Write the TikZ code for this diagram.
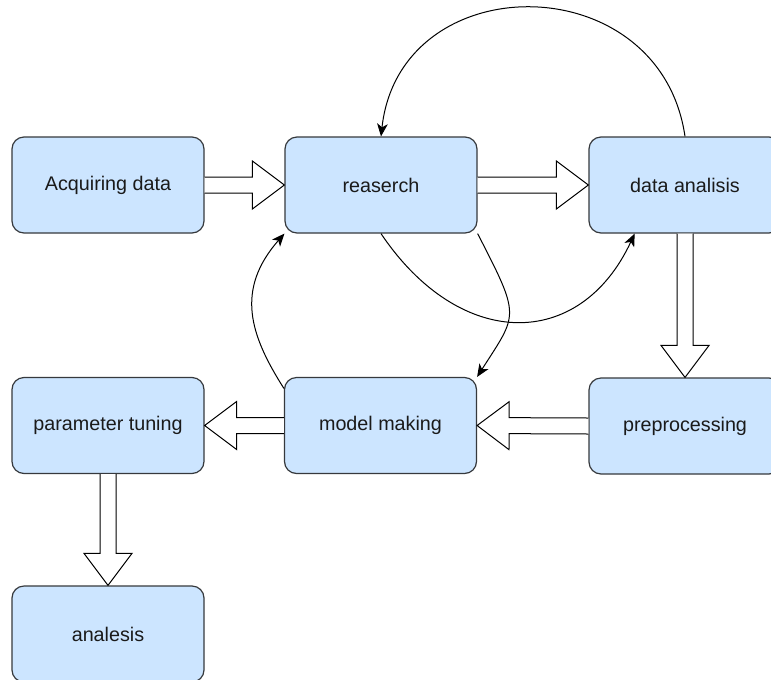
\documentclass[tikz,border=0pt]{standalone}
\usepackage{fontspec}
\setmainfont{Liberation Sans}
\usetikzlibrary{arrows.meta,calc}

\definecolor{boxfill}{HTML}{CCE5FF}
\definecolor{boxline}{HTML}{36393D}
\definecolor{txt}{HTML}{1A1A1A}

\tikzset{
  stage/.style={draw=boxline, fill=boxfill, line width=0.9pt, rounded corners=9pt,
    minimum width=144pt, minimum height=72pt, inner sep=0pt,
    text=txt, font=\fontsize{14.8pt}{17pt}\selectfont},
  blockarrow/.style={draw=black, fill=white, line width=0.75pt, line join=miter},
  link/.style={draw=black, line width=0.75pt,
    -{Stealth[length=9.5pt, width=8pt, inset=2.6pt]}},
}

% hollow block arrow from #1 to #2
\newcommand{\flexarrow}[2]{%
  \coordinate (fa-s) at (#1);
  \coordinate (fa-e) at (#2);
  \coordinate (fa-h) at ($(fa-e)!24pt!(fa-s)$);
  \draw[blockarrow] ($(fa-s)!6pt!90:(fa-e)$) -- ($(fa-h)!6pt!90:(fa-e)$)
    -- ($(fa-h)!18pt!90:(fa-e)$) -- (fa-e) -- ($(fa-h)!18pt!-90:(fa-e)$)
    -- ($(fa-h)!6pt!-90:(fa-e)$) -- ($(fa-s)!6pt!-90:(fa-e)$);
}

\begin{document}
\begin{tikzpicture}[x=0.75pt, y=-0.75pt]
  \clip (0,0) rectangle (771,679);
  \fill[white] (0,0) rectangle (771,679);

  % process stages
  \node[stage] (acq) at (108,185)   {Acquiring data};
  \node[stage] (rs)  at (381,185)   {reaserch};
  \node[stage] (da)  at (685,185)   {data analisis};
  \node[stage] (pt)  at (108,425.5) {parameter tuning};
  \node[stage] (mm)  at (380.5,425.5) {model making};
  \node[stage] (pp)  at (685,426)   {preprocessing};
  \node[stage] (an)  at (108,634)   {analesis};

  % main flow
  \flexarrow{acq.east}{rs.west}
  \flexarrow{rs.east}{da.west}
  \flexarrow{da.south}{pp.north}
  \flexarrow{pp.west}{mm.east}
  \flexarrow{mm.west}{pt.east}
  \flexarrow{pt.south}{an.north}

  % feedback links
  \draw[link] (da.north) .. controls (660,-35) and (400,-35) .. (rs.north);
  \draw[link] (rs.south) .. controls (460,351) and (580,351) .. (da.224);
  \draw[link] (rs.south east) .. controls (521,318) and (518,313) .. (mm.north east);
  \draw[link] (mm.159) .. controls (250,335) and (235,290) .. (rs.south west);
\end{tikzpicture}
\end{document}
